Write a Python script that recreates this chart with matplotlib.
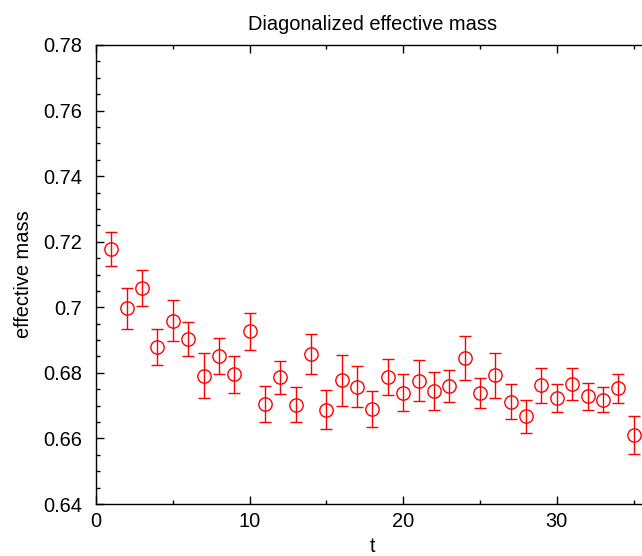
import matplotlib
matplotlib.use("Agg")
import matplotlib.pyplot as plt
from matplotlib.ticker import MultipleLocator

t = list(range(1, 36))
mass = [0.7177, 0.6997, 0.7059, 0.6878, 0.6959, 0.6903, 0.6791, 0.6851, 0.6796, 0.6927,
        0.6705, 0.6786, 0.6703, 0.6857, 0.6688, 0.6777, 0.6758, 0.6689, 0.6787, 0.6739,
        0.6776, 0.6746, 0.6760, 0.6846, 0.6739, 0.6792, 0.6712, 0.6667, 0.6762, 0.6724,
        0.6765, 0.6728, 0.6718, 0.6753, 0.6610]
err = [0.0052, 0.0062, 0.0056, 0.0055, 0.0063, 0.0051, 0.0069, 0.0054, 0.0056, 0.0056,
       0.0056, 0.0049, 0.0053, 0.0062, 0.0059, 0.0077, 0.0063, 0.0055, 0.0056, 0.0056,
       0.0062, 0.0058, 0.0049, 0.0067, 0.0046, 0.0070, 0.0053, 0.0051, 0.0054, 0.0042,
       0.0049, 0.0042, 0.0038, 0.0045, 0.0057]
ytick_vals = [0.64, 0.66, 0.68, 0.70, 0.72, 0.74, 0.76, 0.78]
ytick_labels = ['0.64', '0.66', '0.68', '0.7', '0.72', '0.74', '0.76', '0.78']

plt.rcParams['font.family'] = ['Liberation Sans', 'DejaVu Sans']
fs = 14.4

fig = plt.figure(figsize=(6.42, 5.56), dpi=100)
ax = fig.add_axes([96/642, 52/556, 36*15.36/642, 459/556])

ax.errorbar(t, mass, yerr=err, fmt='o', mfc='none', mec='red', ecolor='red',
            ms=9.6, mew=1.0, elinewidth=1.0, capsize=4.5, capthick=1.0, color='red')

ax.set_xlim(0, 36)
ax.set_ylim(0.64, 0.78)
ax.xaxis.set_major_locator(MultipleLocator(10))
ax.xaxis.set_minor_locator(MultipleLocator(5))
ax.set_yticks(ytick_vals)
ax.set_yticklabels(ytick_labels)
ax.yaxis.set_minor_locator(MultipleLocator(0.005))

ax.tick_params(which='both', direction='in', top=True, right=False, labelsize=fs, width=1.0)
ax.tick_params(axis='y', which='major', length=5.8, pad=10)
ax.tick_params(axis='x', which='major', length=5.8, pad=6)
ax.tick_params(which='minor', length=2.9)
for s in ax.spines.values():
    s.set_linewidth(1.0)

ax.set_title('Diagonalized effective mass', fontsize=fs, pad=11)
ax.set_xlabel('t', fontsize=fs, labelpad=4)
ax.set_ylabel('effective mass', fontsize=fs, labelpad=7)

fig.savefig('out.png', dpi=100)
